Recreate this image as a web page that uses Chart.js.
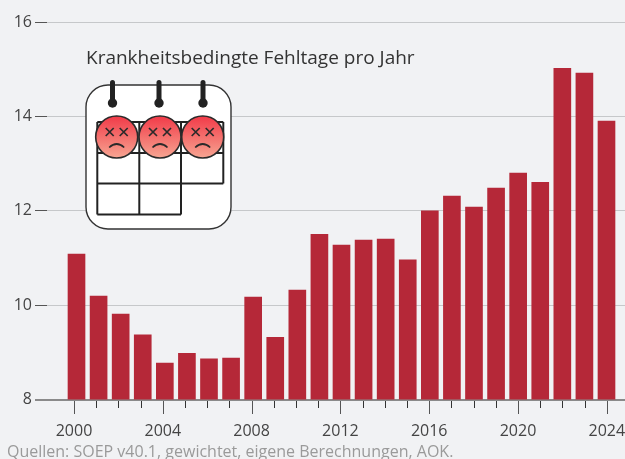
<!DOCTYPE html>
<html><head><meta charset="utf-8">
<style>html,body{margin:0;padding:0;background:#f1f2f4;overflow:hidden}canvas{display:block}</style>
<script src="https://cdn.jsdelivr.net/npm/chart.js@4"></script></head>
<body><canvas id="c" width="625" height="459"></canvas>
<script>
const years=[2000,2001,2002,2003,2004,2005,2006,2007,2008,2009,2010,2011,2012,2013,2014,2015,2016,2017,2018,2019,2020,2021,2022,2023,2024];
const absenceDays=[11.08,10.19,9.81,9.37,8.77,8.98,8.86,8.88,10.17,9.32,10.32,11.5,11.27,11.38,11.4,10.96,12,12.31,12.08,12.48,12.8,12.6,15.02,14.92,13.9];
const yTicks=[8,10,12,14,16];
const titleText='Krankheitsbedingte Fehltage pro Jahr';
const sourceText='Quellen: SOEP v40.1, gewichtet, eigene Berechnungen, AOK.';
const FONT='"Open Sans"';
function rr(c,x,y,w,h,r){c.beginPath();c.roundRect(x,y,w,h,r);}
function drawIcon(c){
 c.save();
 c.lineJoin='miter';
 rr(c,86,85,145,144,22);c.fillStyle='#fff';c.fill();c.strokeStyle='#333';c.lineWidth=1.4;c.stroke();
 c.strokeStyle='#222';c.lineWidth=2;
 c.beginPath();
 [97.3,139.3,181,223.3].forEach((x,i)=>{c.moveTo(x,122);c.lineTo(x,i===3?183.5:214.5);});
 c.moveTo(97.3,122);c.lineTo(223.3,122);
 c.moveTo(97.3,153);c.lineTo(223.3,153);
 c.moveTo(97.3,183.5);c.lineTo(223.3,183.5);
 c.moveTo(97.3,214.5);c.lineTo(181,214.5);
 c.stroke();
 [112.5,159,203].forEach(x=>{
  c.strokeStyle='#222';c.fillStyle='#222';c.lineWidth=5;c.lineCap='round';
  c.beginPath();c.moveTo(x,82.5);c.lineTo(x,100);c.stroke();
  c.beginPath();c.arc(x,103,4.7,0,Math.PI*2);c.fill();
 });
 [116.7,160,202.7].forEach(x=>{
  const g=c.createLinearGradient(0,116,0,158);g.addColorStop(0,'#f13a48');g.addColorStop(1,'#f7a592');
  c.fillStyle=g;c.strokeStyle='#2a2a2a';c.lineWidth=1.6;
  c.beginPath();c.arc(x,137,21,0,Math.PI*2);c.fill();c.stroke();
  c.lineCap='butt';c.lineWidth=1.7;c.beginPath();
  [-7,7].forEach(d=>{const ex=x+d,ey=132;c.moveTo(ex-4,ey-4);c.lineTo(ex+4,ey+4);c.moveTo(ex+4,ey-4);c.lineTo(ex-4,ey+4);});
  c.moveTo(x-7.5,147.5);c.quadraticCurveTo(x,140.5,x+7.5,147.5);
  c.stroke();
 });
 c.restore();
}
const overlay={id:'overlay',
 afterDraw(ch){
  const c=ch.ctx,xs=ch.scales.x;
  c.save();
  years.forEach(y=>{
   const major=(y-2000)%4===0,px=Math.round(xs.getPixelForValue(y))+.5;
   c.strokeStyle=major?'#555':'#333';c.lineWidth=1;
   c.beginPath();c.moveTo(px,401);c.lineTo(px,major?414:408);c.stroke();
  });
  c.textBaseline='alphabetic';c.textAlign='left';
  c.fillStyle='#333';c.font='19px '+FONT;
  c.fillText(titleText,86,64);
  c.fillStyle='#9a9a9a';c.font='16px '+FONT;
  c.fillText(sourceText,7,457);
  c.restore();
  drawIcon(c);
 }};
new Chart(document.getElementById('c'),{
 type:'bar',
 data:{datasets:[{xAxisID:'xb',data:years.map((y,i)=>({x:y,y:absenceDays[i]})),backgroundColor:'#b52838',barThickness:17,borderWidth:0}]},
 plugins:[overlay],
 options:{responsive:false,animation:false,
  layout:{padding:{top:22,left:0,right:0,bottom:0}},
  plugins:{legend:{display:false},tooltip:{enabled:false}},
  scales:{
   xb:{type:'linear',axis:'x',position:'bottom',display:false,offset:false,min:1998.664,max:2024.838,grid:{offset:false}},
   x:{type:'linear',axis:'x',position:'bottom',offset:false,min:1998.784,max:2024.82,
    grid:{display:false,offset:false},border:{display:false},
    afterBuildTicks(s){s.ticks=years.filter(y=>(y-2000)%4===0).map(v=>({value:v}));},
    afterFit(s){s.height=59.5;s.paddingLeft=0;s.paddingRight=0;},
    ticks:{autoSkip:false,maxRotation:0,padding:14,color:'#444',font:{family:FONT,size:16},callback:v=>String(v)}},
   y:{min:8,max:16,
    afterBuildTicks(s){s.ticks=yTicks.map(v=>({value:v}));},
    afterFit(s){s.width=47;s.paddingTop=0;s.paddingBottom=0;},
    border:{display:false},
    grid:{color:c=>c.tick.value===8?'#8a8a8a':'#c6c8ca',lineWidth:c=>c.tick.value===8?2:1,tickLength:12,
      tickColor:c=>c.tick.value===8?'#8a8a8a':'#555',tickWidth:c=>c.tick.value===8?2:1},
    ticks:{padding:3,color:'#444',font:{family:FONT,size:16},callback:v=>String(v)}}
  }}
});
</script></body></html>
